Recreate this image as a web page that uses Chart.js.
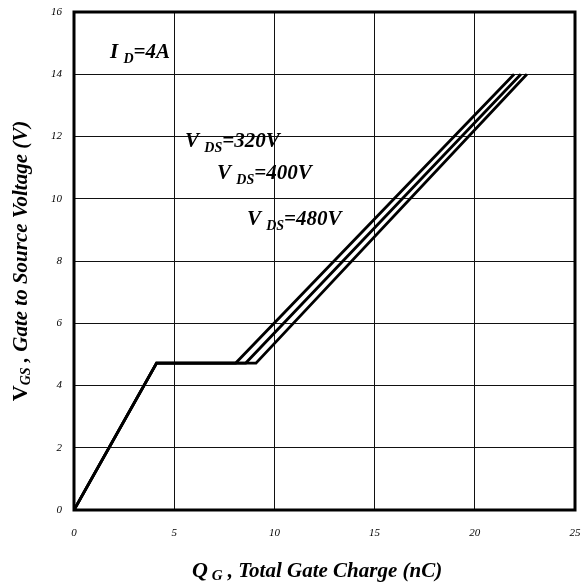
<!DOCTYPE html>
<html>
<head>
<meta charset="utf-8">
<script src="https://cdn.jsdelivr.net/npm/chart.js@4"></script>
<style>
  html, body { margin: 0; padding: 0; background: #fff; }
  #wrap { width: 582px; height: 587px; }
</style>
</head>
<body>
<div id="wrap"><canvas id="plot" width="582" height="587"></canvas></div>
<script>
const ctx = document.querySelector("#plot").getContext("2d");

// gate charge curves, Qg (nC) vs Vgs (V)
const qg_320 = [0, 4.12, 8.07, 21.96];
const vgs_320 = [0, 4.72, 4.72, 14];
const qg_400 = [0, 4.12, 8.57, 22.3];
const vgs_400 = [0, 4.72, 4.72, 14];
const qg_480 = [0, 4.12, 9.08, 22.6];
const vgs_480 = [0, 4.72, 4.72, 14];

const X_TICKS = [0, 5, 10, 15, 20, 25];
const Y_TICKS = [0, 2, 4, 6, 8, 10, 12, 14, 16];

// annotation labels: [main, subscript, rest, x, y] in data units
const NOTES = [
  ["I", "D", "=4A", 1.8, 14.52],
  ["V", "DS", "=320V", 5.54, 11.66],
  ["V", "DS", "=400V", 7.14, 10.63],
  ["V", "DS", "=480V", 8.63, 9.16]
];

const SERIF = "'Liberation Serif', 'DejaVu Serif', serif";

const toPoints = (xs, ys) => xs.map((x, i) => ({ x: x, y: ys[i] }));

const drawRuns = (c, runs, x, y) => {
  // runs: [text, font, dy]
  let cx = x;
  for (const r of runs) {
    c.font = r[1];
    c.fillText(r[0], cx, y + r[2]);
    cx += c.measureText(r[0]).width;
  }
  return cx - x;
};

const runsWidth = (c, runs) => {
  let w = 0;
  for (const r of runs) {
    c.font = r[1];
    w += c.measureText(r[0]).width;
  }
  return w;
};

const decorations = {
  id: "decorations",
  afterDraw(chart) {
    const c = chart.ctx;
    const a = chart.chartArea;
    const xs = chart.scales.x;
    const ys = chart.scales.y;
    c.save();
    c.strokeStyle = "#000";
    c.lineWidth = 3;
    c.strokeRect(a.left, a.top, a.right - a.left, a.bottom - a.top);

    c.fillStyle = "#000";
    c.textBaseline = "alphabetic";
    c.textAlign = "left";
    const big = "italic bold 21px " + SERIF;
    const small = "italic bold 14px " + SERIF;
    for (const n of NOTES) {
      const px = xs.getPixelForValue(n[3]);
      const py = ys.getPixelForValue(n[4]);
      drawRuns(c, [[n[0] + " ", big, 0], [n[1], small, 5], [n[2], big, 0]], px, py);
    }

    // x axis title
    const xt = [["Q", "italic bold 22px " + SERIF, 0], [" G", "italic bold 15px " + SERIF, 3],
      [" , Total Gate Charge (nC)", "italic bold 21px " + SERIF, 0]];
    const xw = runsWidth(c, xt);
    drawRuns(c, xt, 192, 577);

    // y axis title
    const yt = [["V", "bold 22px " + SERIF, 0], ["GS", "italic bold 14px " + SERIF, 3],
      [" , Gate to Source Voltage (V)", "italic bold 21px " + SERIF, 0]];
    const yw = runsWidth(c, yt);
    c.translate(27, (a.top + a.bottom) / 2);
    c.rotate(-Math.PI / 2);
    drawRuns(c, yt, -yw / 2, 0);
    c.restore();
  }
};

const lineStyle = {
  borderColor: "#000",
  backgroundColor: "#000",
  borderWidth: 2.8,
  pointRadius: 0,
  showLine: true,
  fill: false,
  tension: 0
};

new Chart(ctx, {
  type: "scatter",
  data: {
    datasets: [
      Object.assign({ label: "VDS=320V", data: toPoints(qg_320, vgs_320) }, lineStyle),
      Object.assign({ label: "VDS=400V", data: toPoints(qg_400, vgs_400) }, lineStyle),
      Object.assign({ label: "VDS=480V", data: toPoints(qg_480, vgs_480) }, lineStyle)
    ]
  },
  options: {
    responsive: false,
    animation: false,
    layout: { padding: { top: 12, right: 7, left: 0, bottom: 0 } },
    plugins: {
      legend: { display: false },
      tooltip: { enabled: false }
    },
    scales: {
      x: {
        type: "linear",
        min: 0,
        max: 25,
        afterBuildTicks: s => { s.ticks = X_TICKS.map(v => ({ value: v })); },
        afterFit: s => { s.height = 77; s.paddingLeft = 0; s.paddingRight = 0; },
        grid: { color: "#111", lineWidth: 1, drawTicks: false },
        border: { display: false },
        ticks: {
          color: "#000",
          padding: 17,
          maxRotation: 0,
          font: { family: SERIF, style: "italic", size: 11 }
        }
      },
      y: {
        type: "linear",
        min: 0,
        max: 16,
        afterBuildTicks: s => { s.ticks = Y_TICKS.map(v => ({ value: v })); },
        afterFit: s => { s.width = 74; s.paddingTop = 0; s.paddingBottom = 0; },
        grid: { color: "#111", lineWidth: 1, drawTicks: false },
        border: { display: false },
        ticks: {
          color: "#000",
          padding: 12,
          font: { family: SERIF, style: "italic", size: 11 }
        }
      }
    }
  },
  plugins: [decorations]
});
</script>
</body>
</html>
